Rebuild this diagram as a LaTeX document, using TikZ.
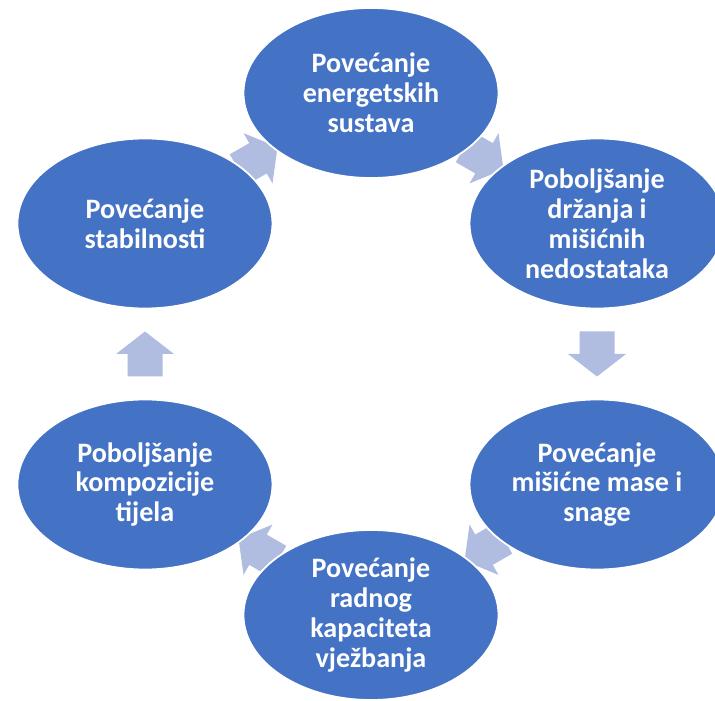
\documentclass[tikz,border=0pt]{standalone}
\usepackage{fontspec}
\setmainfont{Carlito}
\usetikzlibrary{shapes.geometric,calc}
\definecolor{stageblue}{HTML}{4472C4}
\definecolor{arrowblue}{HTML}{B0BCE0}

\begin{document}
\begin{tikzpicture}[
    stage/.style={ellipse,fill=stageblue,draw=white,line width=1pt,
      minimum width=5.1cm,minimum height=3.4cm,inner sep=0pt,
      text=white,font=\fontsize{16}{17}\selectfont\bfseries,align=center},
    cyclearrow/.pic={\fill[arrowblue] (-0.45,-0.35) -- (0,-0.35) -- (0,-0.58)
      -- (0.45,0) -- (0,0.58) -- (0,0.35) -- (-0.45,0.35) -- cycle;}]

      \useasboundingbox (0,0) rectangle (14.3,14);
      \clip (0,0) rectangle (14.3,14);
      \coordinate (C) at (7.42,6.92);

      % block arrows first, the ellipses lie over them
      \foreach \a in {60,0,-60,-120,180,120}
        \path (C) ++(\a:4.52) pic[rotate=\a-90] {cyclearrow};

      \node[stage] (energetski) at ($(C)+(90:5.22)$) {Povećanje\\energetskih\\sustava};
      \node[stage] (drzanje) at ($(C)+(30:5.22)$) {Poboljšanje\\držanja i\\mišićnih\\nedostataka};
      \node[stage] (snaga) at ($(C)+(-30:5.22)$) {Povećanje\\mišićne mase i\\snage};
      \node[stage] (kapacitet) at ($(C)+(-90:5.22)$) {Povećanje\\radnog\\kapaciteta\\vježbanja};
      \node[stage] (kompozicija) at ($(C)+(210:5.22)$) {Poboljšanje\\kompozicije\\tijela};
      \node[stage] (stabilnost) at ($(C)+(150:5.22)$) {Povećanje\\stabilnosti};
  \end{tikzpicture}
\end{document}
